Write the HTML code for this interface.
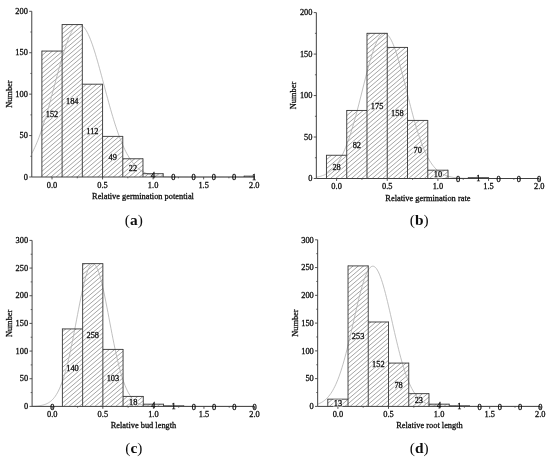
<!DOCTYPE html><html><head><meta charset="utf-8"><title>Figure</title>
<style>html,body{margin:0;padding:0;background:#fff}svg{display:block}text{font-family:"Liberation Serif","DejaVu Serif",serif;fill:#111}text{stroke:#111;stroke-width:0.3}</style></head><body>
<svg width="550" height="460" viewBox="0 0 550 460">
<defs><filter id="bl" x="-2%" y="-2%" width="104%" height="104%"><feGaussianBlur stdDeviation="0.4"/></filter>
<clipPath id="cp-a">
<rect x="41.89" y="51.07" width="20.22" height="125.93"/>
<rect x="62.11" y="24.56" width="20.22" height="152.44"/>
<rect x="82.33" y="84.21" width="20.22" height="92.79"/>
<rect x="102.55" y="136.40" width="20.22" height="40.60"/>
<rect x="122.77" y="158.77" width="20.22" height="18.23"/>
<rect x="142.99" y="173.69" width="20.22" height="3.31"/>
<rect x="244.09" y="176.17" width="10.11" height="0.83"/>
</clipPath>
<clipPath id="cp-b">
<rect x="326.47" y="155.27" width="20.26" height="23.23"/>
<rect x="346.73" y="110.48" width="20.26" height="68.02"/>
<rect x="366.99" y="33.34" width="20.26" height="145.16"/>
<rect x="387.25" y="47.44" width="20.26" height="131.06"/>
<rect x="407.51" y="120.44" width="20.26" height="58.06"/>
<rect x="427.77" y="170.21" width="20.26" height="8.29"/>
<rect x="468.29" y="177.67" width="20.26" height="0.83"/>
</clipPath>
<clipPath id="cp-c">
<rect x="62.41" y="328.93" width="20.22" height="77.47"/>
<rect x="82.63" y="263.64" width="20.22" height="142.76"/>
<rect x="102.85" y="349.41" width="20.22" height="56.99"/>
<rect x="123.07" y="396.44" width="20.22" height="9.96"/>
<rect x="143.29" y="404.19" width="20.22" height="2.21"/>
<rect x="163.51" y="405.85" width="20.22" height="0.55"/>
</clipPath>
<clipPath id="cp-d">
<rect x="327.78" y="399.18" width="20.24" height="7.22"/>
<rect x="348.02" y="265.90" width="20.24" height="140.50"/>
<rect x="368.26" y="321.99" width="20.24" height="84.41"/>
<rect x="388.50" y="363.08" width="20.24" height="43.32"/>
<rect x="408.74" y="393.63" width="20.24" height="12.77"/>
<rect x="428.98" y="404.18" width="20.24" height="2.22"/>
<rect x="449.22" y="405.84" width="20.24" height="0.56"/>
</clipPath>
</defs>
<rect width="550" height="460" fill="#fff"/>
<g filter="url(#bl)">
<g id="panel-a">
<path d="M31.78 10.84L254.20 -179.13M31.78 15.29L254.20 -174.68M31.78 19.74L254.20 -170.23M31.78 24.19L254.20 -165.78M31.78 28.64L254.20 -161.33M31.78 33.09L254.20 -156.88M31.78 37.54L254.20 -152.43M31.78 41.99L254.20 -147.98M31.78 46.44L254.20 -143.53M31.78 50.89L254.20 -139.08M31.78 55.34L254.20 -134.63M31.78 59.79L254.20 -130.18M31.78 64.24L254.20 -125.73M31.78 68.69L254.20 -121.28M31.78 73.14L254.20 -116.83M31.78 77.59L254.20 -112.38M31.78 82.04L254.20 -107.93M31.78 86.49L254.20 -103.48M31.78 90.94L254.20 -99.03M31.78 95.39L254.20 -94.58M31.78 99.84L254.20 -90.13M31.78 104.29L254.20 -85.68M31.78 108.74L254.20 -81.23M31.78 113.19L254.20 -76.78M31.78 117.64L254.20 -72.33M31.78 122.09L254.20 -67.88M31.78 126.54L254.20 -63.43M31.78 130.99L254.20 -58.98M31.78 135.44L254.20 -54.53M31.78 139.89L254.20 -50.08M31.78 144.34L254.20 -45.63M31.78 148.79L254.20 -41.18M31.78 153.24L254.20 -36.73M31.78 157.69L254.20 -32.28M31.78 162.14L254.20 -27.83M31.78 166.59L254.20 -23.38M31.78 171.04L254.20 -18.93M31.78 175.49L254.20 -14.48M31.78 179.94L254.20 -10.03M31.78 184.39L254.20 -5.58M31.78 188.84L254.20 -1.13M31.78 193.29L254.20 3.32M31.78 197.74L254.20 7.77M31.78 202.19L254.20 12.22M31.78 206.64L254.20 16.67M31.78 211.09L254.20 21.12M31.78 215.54L254.20 25.57M31.78 219.99L254.20 30.02M31.78 224.44L254.20 34.47M31.78 228.89L254.20 38.92M31.78 233.34L254.20 43.37M31.78 237.79L254.20 47.82M31.78 242.24L254.20 52.27M31.78 246.69L254.20 56.72M31.78 251.14L254.20 61.17M31.78 255.59L254.20 65.62M31.78 260.04L254.20 70.07M31.78 264.49L254.20 74.52M31.78 268.94L254.20 78.97M31.78 273.39L254.20 83.42M31.78 277.84L254.20 87.87M31.78 282.29L254.20 92.32M31.78 286.74L254.20 96.77M31.78 291.19L254.20 101.22M31.78 295.64L254.20 105.67M31.78 300.09L254.20 110.12M31.78 304.54L254.20 114.57M31.78 308.99L254.20 119.02M31.78 313.44L254.20 123.47M31.78 317.89L254.20 127.92M31.78 322.34L254.20 132.37M31.78 326.79L254.20 136.82M31.78 331.24L254.20 141.27M31.78 335.69L254.20 145.72M31.78 340.14L254.20 150.17M31.78 344.59L254.20 154.62M31.78 349.04L254.20 159.07M31.78 353.49L254.20 163.52M31.78 357.94L254.20 167.97M31.78 362.39L254.20 172.42M31.78 366.84L254.20 176.87M31.78 371.29L254.20 181.32" clip-path="url(#cp-a)" stroke="#9a9a9a" stroke-width="0.9" fill="none"/>
<polyline points="31.78,153.52 32.79,151.59 33.80,149.56 34.81,147.41 35.82,145.15 36.84,142.77 37.85,140.28 38.86,137.67 39.87,134.95 40.88,132.12 41.89,129.17 42.90,126.12 43.91,122.97 44.92,119.72 45.93,116.38 46.95,112.95 47.96,109.44 48.97,105.86 49.98,102.21 50.99,98.51 52.00,94.77 53.01,91.00 54.02,87.20 55.03,83.40 56.04,79.60 57.06,75.81 58.07,72.06 59.08,68.35 60.09,64.71 61.10,61.13 62.11,57.65 63.12,54.26 64.13,51.00 65.14,47.87 66.15,44.88 67.16,42.06 68.18,39.40 69.19,36.93 70.20,34.66 71.21,32.60 72.22,30.75 73.23,29.13 74.24,27.75 75.25,26.61 76.26,25.71 77.28,25.07 78.29,24.69 79.30,24.56 80.31,24.69 81.32,25.07 82.33,25.71 83.34,26.61 84.35,27.75 85.36,29.13 86.37,30.75 87.38,32.60 88.40,34.66 89.41,36.93 90.42,39.40 91.43,42.06 92.44,44.88 93.45,47.87 94.46,51.00 95.47,54.26 96.48,57.65 97.50,61.13 98.51,64.71 99.52,68.35 100.53,72.06 101.54,75.81 102.55,79.60 103.56,83.40 104.57,87.20 105.58,91.00 106.59,94.77 107.61,98.51 108.62,102.21 109.63,105.86 110.64,109.44 111.65,112.95 112.66,116.38 113.67,119.72 114.68,122.97 115.69,126.12 116.70,129.17 117.72,132.12 118.73,134.95 119.74,137.67 120.75,140.28 121.76,142.77 122.77,145.15 123.78,147.41 124.79,149.56 125.80,151.59 126.81,153.52 127.83,155.33 128.84,157.04 129.85,158.64 130.86,160.15 131.87,161.56 132.88,162.87 133.89,164.09 134.90,165.23 135.91,166.29 136.92,167.27 137.94,168.17 138.95,169.00 139.96,169.77 140.97,170.47 141.98,171.12 142.99,171.71 144.00,172.25 145.01,172.74 146.02,173.19 147.03,173.59 148.05,173.96 149.06,174.29 150.07,174.59 151.08,174.87 152.09,175.11 153.10,175.33 154.11,175.52 155.12,175.70 156.13,175.85 157.14,175.99 158.16,176.12 159.17,176.23 160.18,176.32 161.19,176.41 162.20,176.49 163.21,176.55 164.22,176.61 165.23,176.66 166.24,176.71 167.25,176.75 168.26,176.78 169.28,176.81 170.29,176.84 171.30,176.86 172.31,176.88 173.32,176.90 174.33,176.91 175.34,176.93 176.35,176.94 177.36,176.95 178.38,176.96 179.39,176.96 180.40,176.97 181.41,176.97 182.42,176.98 183.43,176.98 184.44,176.98 185.45,176.99 186.46,176.99 187.47,176.99 188.49,176.99 189.50,176.99 190.51,176.99 191.52,177.00 192.53,177.00 193.54,177.00 194.55,177.00 195.56,177.00 196.57,177.00 197.58,177.00 198.60,177.00 199.61,177.00 200.62,177.00 201.63,177.00 202.64,177.00 203.65,177.00 204.66,177.00 205.67,177.00 206.68,177.00 207.69,177.00 208.71,177.00 209.72,177.00 210.73,177.00 211.74,177.00 212.75,177.00 213.76,177.00 214.77,177.00 215.78,177.00 216.79,177.00 217.80,177.00 218.82,177.00 219.83,177.00 220.84,177.00 221.85,177.00 222.86,177.00 223.87,177.00 224.88,177.00 225.89,177.00 226.90,177.00 227.91,177.00 228.93,177.00 229.94,177.00 230.95,177.00 231.96,177.00 232.97,177.00 233.98,177.00 234.99,177.00 236.00,177.00 237.01,177.00 238.02,177.00 239.04,177.00 240.05,177.00 241.06,177.00 242.07,177.00 243.08,177.00 244.09,177.00 245.10,177.00 246.11,177.00 247.12,177.00 248.13,177.00 249.15,177.00 250.16,177.00 251.17,177.00 252.18,177.00 253.19,177.00 254.20,177.00" fill="none" stroke="#b0b0b0" stroke-width="0.8"/>
<path d="M41.89 51.07H62.11M62.11 24.56H82.33M82.33 84.21H102.55M102.55 136.40H122.77M122.77 158.77H142.99M142.99 173.69H163.21M244.09 176.17H254.20M41.89 50.67V177.00M62.11 24.16V177.00M82.33 24.16V177.00M102.55 83.81V177.00M122.77 136.00V177.00M142.99 158.37V177.00M163.21 173.29V177.00M244.09 175.77V177.00M254.20 175.77V177.00" fill="none" stroke="#333" stroke-width="0.9"/>
<path d="M31.78 11.30V177.00H254.20" fill="none" stroke="#404040" stroke-width="1"/>
<path d="M29.18 177.00H31.78" stroke="#404040" stroke-width="0.9"/>
<text x="27.88" y="179.70" font-size="8.4" text-anchor="end">0</text>
<path d="M30.38 156.29H31.78" stroke="#404040" stroke-width="0.8"/>
<path d="M29.18 135.57H31.78" stroke="#404040" stroke-width="0.9"/>
<text x="27.88" y="138.27" font-size="8.4" text-anchor="end">50</text>
<path d="M30.38 114.86H31.78" stroke="#404040" stroke-width="0.8"/>
<path d="M29.18 94.15H31.78" stroke="#404040" stroke-width="0.9"/>
<text x="27.88" y="96.85" font-size="8.4" text-anchor="end">100</text>
<path d="M30.38 73.44H31.78" stroke="#404040" stroke-width="0.8"/>
<path d="M29.18 52.73H31.78" stroke="#404040" stroke-width="0.9"/>
<text x="27.88" y="55.43" font-size="8.4" text-anchor="end">150</text>
<path d="M30.38 32.01H31.78" stroke="#404040" stroke-width="0.8"/>
<path d="M29.18 11.30H31.78" stroke="#404040" stroke-width="0.9"/>
<text x="27.88" y="14.00" font-size="8.4" text-anchor="end">200</text>
<path d="M52.00 177.00V179.40" stroke="#404040" stroke-width="0.9"/>
<text x="52.00" y="187.50" font-size="8.4" text-anchor="middle">0.0</text>
<path d="M77.28 177.00V178.30" stroke="#404040" stroke-width="0.8"/>
<path d="M102.55 177.00V179.40" stroke="#404040" stroke-width="0.9"/>
<text x="102.55" y="187.50" font-size="8.4" text-anchor="middle">0.5</text>
<path d="M127.82 177.00V178.30" stroke="#404040" stroke-width="0.8"/>
<path d="M153.10 177.00V179.40" stroke="#404040" stroke-width="0.9"/>
<text x="153.10" y="187.50" font-size="8.4" text-anchor="middle">1.0</text>
<path d="M178.38 177.00V178.30" stroke="#404040" stroke-width="0.8"/>
<path d="M203.65 177.00V179.40" stroke="#404040" stroke-width="0.9"/>
<text x="203.65" y="187.50" font-size="8.4" text-anchor="middle">1.5</text>
<path d="M228.92 177.00V178.30" stroke="#404040" stroke-width="0.8"/>
<path d="M254.20 177.00V179.40" stroke="#404040" stroke-width="0.9"/>
<text x="254.20" y="187.50" font-size="8.4" text-anchor="middle">2.0</text>
<rect x="44.90" y="110.53" width="14.20" height="7.6" rx="1.5" fill="#fff" fill-opacity="0.5"/>
<text x="52.00" y="117.13" font-size="8.4" text-anchor="middle">152</text>
<rect x="65.12" y="97.28" width="14.20" height="7.6" rx="1.5" fill="#fff" fill-opacity="0.5"/>
<text x="72.22" y="103.88" font-size="8.4" text-anchor="middle">184</text>
<rect x="85.34" y="127.10" width="14.20" height="7.6" rx="1.5" fill="#fff" fill-opacity="0.5"/>
<text x="92.44" y="133.70" font-size="8.4" text-anchor="middle">112</text>
<rect x="107.66" y="153.20" width="10.00" height="7.6" rx="1.5" fill="#fff" fill-opacity="0.5"/>
<text x="112.66" y="159.80" font-size="8.4" text-anchor="middle">49</text>
<rect x="127.88" y="164.39" width="10.00" height="7.6" rx="1.5" fill="#fff" fill-opacity="0.5"/>
<text x="132.88" y="170.99" font-size="8.4" text-anchor="middle">22</text>
<text x="153.10" y="178.44" font-size="8.4" text-anchor="middle">4</text>
<text x="173.32" y="180.10" font-size="8.4" text-anchor="middle">0</text>
<text x="193.54" y="180.10" font-size="8.4" text-anchor="middle">0</text>
<text x="213.76" y="180.10" font-size="8.4" text-anchor="middle">0</text>
<text x="233.98" y="180.10" font-size="8.4" text-anchor="middle">0</text>
<text x="254.20" y="179.69" font-size="8.4" text-anchor="middle">1</text>
<text x="143" y="198.7" font-size="8.4" text-anchor="middle">Relative germination potential</text>
<text transform="translate(11.88 94.15) rotate(-90)" font-size="8.4" text-anchor="middle">Number</text>
</g>
<g id="panel-b">
<path d="M316.34 12.55L539.20 -177.79M316.34 17.00L539.20 -173.34M316.34 21.45L539.20 -168.89M316.34 25.90L539.20 -164.44M316.34 30.35L539.20 -159.99M316.34 34.80L539.20 -155.54M316.34 39.25L539.20 -151.09M316.34 43.70L539.20 -146.64M316.34 48.15L539.20 -142.19M316.34 52.60L539.20 -137.74M316.34 57.05L539.20 -133.29M316.34 61.50L539.20 -128.84M316.34 65.95L539.20 -124.39M316.34 70.40L539.20 -119.94M316.34 74.85L539.20 -115.49M316.34 79.30L539.20 -111.04M316.34 83.75L539.20 -106.59M316.34 88.20L539.20 -102.14M316.34 92.65L539.20 -97.69M316.34 97.10L539.20 -93.24M316.34 101.55L539.20 -88.79M316.34 106.00L539.20 -84.34M316.34 110.45L539.20 -79.89M316.34 114.90L539.20 -75.44M316.34 119.35L539.20 -70.99M316.34 123.80L539.20 -66.54M316.34 128.25L539.20 -62.09M316.34 132.70L539.20 -57.64M316.34 137.15L539.20 -53.19M316.34 141.60L539.20 -48.74M316.34 146.05L539.20 -44.29M316.34 150.50L539.20 -39.84M316.34 154.95L539.20 -35.39M316.34 159.40L539.20 -30.94M316.34 163.85L539.20 -26.49M316.34 168.30L539.20 -22.04M316.34 172.75L539.20 -17.59M316.34 177.20L539.20 -13.14M316.34 181.65L539.20 -8.69M316.34 186.10L539.20 -4.24M316.34 190.55L539.20 0.21M316.34 195.00L539.20 4.66M316.34 199.45L539.20 9.11M316.34 203.90L539.20 13.56M316.34 208.35L539.20 18.01M316.34 212.80L539.20 22.46M316.34 217.25L539.20 26.91M316.34 221.70L539.20 31.36M316.34 226.15L539.20 35.81M316.34 230.60L539.20 40.26M316.34 235.05L539.20 44.71M316.34 239.50L539.20 49.16M316.34 243.95L539.20 53.61M316.34 248.40L539.20 58.06M316.34 252.85L539.20 62.51M316.34 257.30L539.20 66.96M316.34 261.75L539.20 71.41M316.34 266.20L539.20 75.86M316.34 270.65L539.20 80.31M316.34 275.10L539.20 84.76M316.34 279.55L539.20 89.21M316.34 284.00L539.20 93.66M316.34 288.45L539.20 98.11M316.34 292.90L539.20 102.56M316.34 297.35L539.20 107.01M316.34 301.80L539.20 111.46M316.34 306.25L539.20 115.91M316.34 310.70L539.20 120.36M316.34 315.15L539.20 124.81M316.34 319.60L539.20 129.26M316.34 324.05L539.20 133.71M316.34 328.50L539.20 138.16M316.34 332.95L539.20 142.61M316.34 337.40L539.20 147.06M316.34 341.85L539.20 151.51M316.34 346.30L539.20 155.96M316.34 350.75L539.20 160.41M316.34 355.20L539.20 164.86M316.34 359.65L539.20 169.31M316.34 364.10L539.20 173.76M316.34 368.55L539.20 178.21M316.34 373.00L539.20 182.66" clip-path="url(#cp-b)" stroke="#9a9a9a" stroke-width="0.9" fill="none"/>
<polyline points="316.34,177.25 317.35,177.06 318.37,176.84 319.38,176.60 320.39,176.33 321.41,176.02 322.42,175.68 323.43,175.29 324.44,174.86 325.46,174.39 326.47,173.86 327.48,173.27 328.50,172.62 329.51,171.90 330.52,171.11 331.54,170.24 332.55,169.29 333.56,168.26 334.57,167.13 335.59,165.90 336.60,164.57 337.61,163.13 338.63,161.58 339.64,159.91 340.65,158.12 341.67,156.21 342.68,154.16 343.69,151.99 344.70,149.68 345.72,147.23 346.73,144.65 347.74,141.93 348.76,139.08 349.77,136.09 350.78,132.98 351.80,129.74 352.81,126.37 353.82,122.89 354.83,119.31 355.85,115.62 356.86,111.85 357.87,108.00 358.89,104.08 359.90,100.11 360.91,96.10 361.93,92.07 362.94,88.03 363.95,84.00 364.96,80.00 365.98,76.05 366.99,72.16 368.00,68.36 369.02,64.66 370.03,61.09 371.04,57.65 372.06,54.38 373.07,51.29 374.08,48.39 375.09,45.71 376.11,43.25 377.12,41.04 378.13,39.09 379.15,37.41 380.16,36.01 381.17,34.89 382.19,34.07 383.20,33.56 384.21,33.34 385.22,33.44 386.24,33.83 387.25,34.53 388.26,35.53 389.28,36.81 390.29,38.39 391.30,40.23 392.32,42.34 393.33,44.70 394.34,47.29 395.35,50.10 396.37,53.12 397.38,56.32 398.39,59.69 399.41,63.22 400.42,66.87 401.43,70.63 402.45,74.49 403.46,78.42 404.47,82.40 405.48,86.42 406.50,90.45 407.51,94.49 408.52,98.51 409.54,102.50 410.55,106.44 411.56,110.32 412.58,114.12 413.59,117.85 414.60,121.47 415.61,124.99 416.63,128.40 417.64,131.70 418.65,134.86 419.67,137.90 420.68,140.81 421.69,143.58 422.71,146.22 423.72,148.72 424.73,151.08 425.74,153.31 426.76,155.41 427.77,157.37 428.78,159.21 429.80,160.93 430.81,162.53 431.82,164.01 432.84,165.38 433.85,166.65 434.86,167.82 435.87,168.89 436.89,169.87 437.90,170.77 438.91,171.59 439.93,172.34 440.94,173.02 441.95,173.63 442.97,174.18 443.98,174.68 444.99,175.13 446.00,175.53 447.02,175.89 448.03,176.21 449.04,176.50 450.06,176.75 451.07,176.97 452.08,177.17 453.10,177.35 454.11,177.50 455.12,177.64 456.13,177.76 457.15,177.86 458.16,177.95 459.17,178.03 460.19,178.10 461.20,178.16 462.21,178.21 463.23,178.25 464.24,178.29 465.25,178.32 466.26,178.35 467.28,178.37 468.29,178.39 469.30,178.41 470.32,178.42 471.33,178.44 472.34,178.45 473.36,178.46 474.37,178.46 475.38,178.47 476.39,178.48 477.41,178.48 478.42,178.48 479.43,178.49 480.45,178.49 481.46,178.49 482.47,178.49 483.49,178.49 484.50,178.49 485.51,178.50 486.52,178.50 487.54,178.50 488.55,178.50 489.56,178.50 490.58,178.50 491.59,178.50 492.60,178.50 493.62,178.50 494.63,178.50 495.64,178.50 496.65,178.50 497.67,178.50 498.68,178.50 499.69,178.50 500.71,178.50 501.72,178.50 502.73,178.50 503.75,178.50 504.76,178.50 505.77,178.50 506.78,178.50 507.80,178.50 508.81,178.50 509.82,178.50 510.84,178.50 511.85,178.50 512.86,178.50 513.88,178.50 514.89,178.50 515.90,178.50 516.91,178.50 517.93,178.50 518.94,178.50 519.95,178.50 520.97,178.50 521.98,178.50 522.99,178.50 524.01,178.50 525.02,178.50 526.03,178.50 527.04,178.50 528.06,178.50 529.07,178.50 530.08,178.50 531.10,178.50 532.11,178.50 533.12,178.50 534.13,178.50 535.15,178.50 536.16,178.50 537.17,178.50 538.19,178.50 539.20,178.50" fill="none" stroke="#b0b0b0" stroke-width="0.8"/>
<path d="M326.47 155.27H346.73M346.73 110.48H366.99M366.99 33.34H387.25M387.25 47.44H407.51M407.51 120.44H427.77M427.77 170.21H448.03M468.29 177.67H488.55M326.47 154.87V178.50M346.73 110.08V178.50M366.99 32.94V178.50M387.25 32.94V178.50M407.51 47.04V178.50M427.77 120.03V178.50M448.03 169.81V178.50M468.29 177.27V178.50M488.55 177.27V178.50" fill="none" stroke="#333" stroke-width="0.9"/>
<path d="M316.34 12.60V178.50H539.20" fill="none" stroke="#404040" stroke-width="1"/>
<path d="M313.74 178.50H316.34" stroke="#404040" stroke-width="0.9"/>
<text x="312.44" y="181.20" font-size="8.4" text-anchor="end">0</text>
<path d="M314.94 157.76H316.34" stroke="#404040" stroke-width="0.8"/>
<path d="M313.74 137.03H316.34" stroke="#404040" stroke-width="0.9"/>
<text x="312.44" y="139.72" font-size="8.4" text-anchor="end">50</text>
<path d="M314.94 116.29H316.34" stroke="#404040" stroke-width="0.8"/>
<path d="M313.74 95.55H316.34" stroke="#404040" stroke-width="0.9"/>
<text x="312.44" y="98.25" font-size="8.4" text-anchor="end">100</text>
<path d="M314.94 74.81H316.34" stroke="#404040" stroke-width="0.8"/>
<path d="M313.74 54.08H316.34" stroke="#404040" stroke-width="0.9"/>
<text x="312.44" y="56.78" font-size="8.4" text-anchor="end">150</text>
<path d="M314.94 33.34H316.34" stroke="#404040" stroke-width="0.8"/>
<path d="M313.74 12.60H316.34" stroke="#404040" stroke-width="0.9"/>
<text x="312.44" y="15.30" font-size="8.4" text-anchor="end">200</text>
<path d="M336.60 178.50V180.90" stroke="#404040" stroke-width="0.9"/>
<text x="336.60" y="189.00" font-size="8.4" text-anchor="middle">0.0</text>
<path d="M361.93 178.50V179.80" stroke="#404040" stroke-width="0.8"/>
<path d="M387.25 178.50V180.90" stroke="#404040" stroke-width="0.9"/>
<text x="387.25" y="189.00" font-size="8.4" text-anchor="middle">0.5</text>
<path d="M412.58 178.50V179.80" stroke="#404040" stroke-width="0.8"/>
<path d="M437.90 178.50V180.90" stroke="#404040" stroke-width="0.9"/>
<text x="437.90" y="189.00" font-size="8.4" text-anchor="middle">1.0</text>
<path d="M463.23 178.50V179.80" stroke="#404040" stroke-width="0.8"/>
<path d="M488.55 178.50V180.90" stroke="#404040" stroke-width="0.9"/>
<text x="488.55" y="189.00" font-size="8.4" text-anchor="middle">1.5</text>
<path d="M513.88 178.50V179.80" stroke="#404040" stroke-width="0.8"/>
<path d="M539.20 178.50V180.90" stroke="#404040" stroke-width="0.9"/>
<text x="539.20" y="189.00" font-size="8.4" text-anchor="middle">2.0</text>
<rect x="331.60" y="163.39" width="10.00" height="7.6" rx="1.5" fill="#fff" fill-opacity="0.5"/>
<text x="336.60" y="169.99" font-size="8.4" text-anchor="middle">28</text>
<rect x="351.86" y="140.99" width="10.00" height="7.6" rx="1.5" fill="#fff" fill-opacity="0.5"/>
<text x="356.86" y="147.59" font-size="8.4" text-anchor="middle">82</text>
<rect x="370.02" y="102.42" width="14.20" height="7.6" rx="1.5" fill="#fff" fill-opacity="0.5"/>
<text x="377.12" y="109.02" font-size="8.4" text-anchor="middle">175</text>
<rect x="390.28" y="109.47" width="14.20" height="7.6" rx="1.5" fill="#fff" fill-opacity="0.5"/>
<text x="397.38" y="116.07" font-size="8.4" text-anchor="middle">158</text>
<rect x="412.64" y="145.97" width="10.00" height="7.6" rx="1.5" fill="#fff" fill-opacity="0.5"/>
<text x="417.64" y="152.57" font-size="8.4" text-anchor="middle">70</text>
<rect x="432.90" y="170.85" width="10.00" height="7.6" rx="1.5" fill="#fff" fill-opacity="0.5"/>
<text x="437.90" y="177.45" font-size="8.4" text-anchor="middle">10</text>
<text x="458.16" y="181.60" font-size="8.4" text-anchor="middle">0</text>
<text x="478.42" y="181.19" font-size="8.4" text-anchor="middle">1</text>
<text x="498.68" y="181.60" font-size="8.4" text-anchor="middle">0</text>
<text x="518.94" y="181.60" font-size="8.4" text-anchor="middle">0</text>
<text x="539.20" y="181.60" font-size="8.4" text-anchor="middle">0</text>
<text x="427.9" y="200.7" font-size="8.4" text-anchor="middle">Relative germination rate</text>
<text transform="translate(296.44 95.55) rotate(-90)" font-size="8.4" text-anchor="middle">Number</text>
</g>
<g id="panel-c">
<path d="M32.08 237.53L254.50 47.57M32.08 241.98L254.50 52.02M32.08 246.43L254.50 56.47M32.08 250.88L254.50 60.92M32.08 255.33L254.50 65.37M32.08 259.78L254.50 69.82M32.08 264.23L254.50 74.27M32.08 268.68L254.50 78.72M32.08 273.13L254.50 83.17M32.08 277.58L254.50 87.62M32.08 282.03L254.50 92.07M32.08 286.48L254.50 96.52M32.08 290.93L254.50 100.97M32.08 295.38L254.50 105.42M32.08 299.83L254.50 109.87M32.08 304.28L254.50 114.32M32.08 308.73L254.50 118.77M32.08 313.18L254.50 123.22M32.08 317.63L254.50 127.67M32.08 322.08L254.50 132.12M32.08 326.53L254.50 136.57M32.08 330.98L254.50 141.02M32.08 335.43L254.50 145.47M32.08 339.88L254.50 149.92M32.08 344.33L254.50 154.37M32.08 348.78L254.50 158.82M32.08 353.23L254.50 163.27M32.08 357.68L254.50 167.72M32.08 362.13L254.50 172.17M32.08 366.58L254.50 176.62M32.08 371.03L254.50 181.07M32.08 375.48L254.50 185.52M32.08 379.93L254.50 189.97M32.08 384.38L254.50 194.42M32.08 388.83L254.50 198.87M32.08 393.28L254.50 203.32M32.08 397.73L254.50 207.77M32.08 402.18L254.50 212.22M32.08 406.63L254.50 216.67M32.08 411.08L254.50 221.12M32.08 415.53L254.50 225.57M32.08 419.98L254.50 230.02M32.08 424.43L254.50 234.47M32.08 428.88L254.50 238.92M32.08 433.33L254.50 243.37M32.08 437.78L254.50 247.82M32.08 442.23L254.50 252.27M32.08 446.68L254.50 256.72M32.08 451.13L254.50 261.17M32.08 455.58L254.50 265.62M32.08 460.03L254.50 270.07M32.08 464.48L254.50 274.52M32.08 468.93L254.50 278.97M32.08 473.38L254.50 283.42M32.08 477.83L254.50 287.87M32.08 482.28L254.50 292.32M32.08 486.73L254.50 296.77M32.08 491.18L254.50 301.22M32.08 495.63L254.50 305.67M32.08 500.08L254.50 310.12M32.08 504.53L254.50 314.57M32.08 508.98L254.50 319.02M32.08 513.43L254.50 323.47M32.08 517.88L254.50 327.92M32.08 522.33L254.50 332.37M32.08 526.78L254.50 336.82M32.08 531.23L254.50 341.27M32.08 535.68L254.50 345.72M32.08 540.13L254.50 350.17M32.08 544.58L254.50 354.62M32.08 549.03L254.50 359.07M32.08 553.48L254.50 363.52M32.08 557.93L254.50 367.97M32.08 562.38L254.50 372.42M32.08 566.83L254.50 376.87M32.08 571.28L254.50 381.32M32.08 575.73L254.50 385.77M32.08 580.18L254.50 390.22M32.08 584.63L254.50 394.67M32.08 589.08L254.50 399.12M32.08 593.53L254.50 403.57M32.08 597.98L254.50 408.02" clip-path="url(#cp-c)" stroke="#9a9a9a" stroke-width="0.9" fill="none"/>
<polyline points="32.08,406.26 33.09,406.22 34.10,406.18 35.11,406.12 36.12,406.05 37.13,405.97 38.15,405.87 39.16,405.75 40.17,405.61 41.18,405.43 42.19,405.23 43.20,404.98 44.21,404.69 45.22,404.35 46.23,403.95 47.24,403.49 48.26,402.95 49.27,402.32 50.28,401.60 51.29,400.78 52.30,399.83 53.31,398.76 54.32,397.54 55.33,396.18 56.34,394.64 57.36,392.93 58.37,391.02 59.38,388.92 60.39,386.60 61.40,384.06 62.41,381.28 63.42,378.27 64.43,375.02 65.44,371.53 66.45,367.80 67.46,363.82 68.48,359.62 69.49,355.20 70.50,350.58 71.51,345.76 72.52,340.79 73.53,335.67 74.54,330.45 75.55,325.15 76.56,319.81 77.58,314.47 78.59,309.18 79.60,303.97 80.61,298.89 81.62,293.99 82.63,289.31 83.64,284.90 84.65,280.81 85.66,277.07 86.67,273.72 87.69,270.81 88.70,268.36 89.71,266.40 90.72,264.95 91.73,264.03 92.74,263.65 93.75,263.81 94.76,264.52 95.77,265.76 96.78,267.51 97.79,269.77 98.81,272.50 99.82,275.68 100.83,279.26 101.84,283.22 102.85,287.51 103.86,292.09 104.87,296.90 105.88,301.92 106.89,307.08 107.91,312.35 108.92,317.67 109.93,323.02 110.94,328.34 111.95,333.59 112.96,338.76 113.97,343.79 114.98,348.67 115.99,353.37 117.00,357.88 118.02,362.17 119.03,366.24 120.04,370.07 121.05,373.65 122.06,377.00 123.07,380.11 124.08,382.97 125.09,385.61 126.10,388.02 127.11,390.21 128.12,392.19 129.14,393.98 130.15,395.58 131.16,397.02 132.17,398.29 133.18,399.42 134.19,400.41 135.20,401.28 136.21,402.05 137.22,402.71 138.24,403.28 139.25,403.78 140.26,404.20 141.27,404.56 142.28,404.87 143.29,405.13 144.30,405.35 145.31,405.54 146.32,405.70 147.33,405.82 148.35,405.93 149.36,406.02 150.37,406.09 151.38,406.15 152.39,406.20 153.40,406.24 154.41,406.28 155.42,406.30 156.43,406.32 157.44,406.34 158.45,406.35 159.47,406.36 160.48,406.37 161.49,406.38 162.50,406.38 163.51,406.39 164.52,406.39 165.53,406.39 166.54,406.39 167.55,406.40 168.56,406.40 169.58,406.40 170.59,406.40 171.60,406.40 172.61,406.40 173.62,406.40 174.63,406.40 175.64,406.40 176.65,406.40 177.66,406.40 178.68,406.40 179.69,406.40 180.70,406.40 181.71,406.40 182.72,406.40 183.73,406.40 184.74,406.40 185.75,406.40 186.76,406.40 187.77,406.40 188.79,406.40 189.80,406.40 190.81,406.40 191.82,406.40 192.83,406.40 193.84,406.40 194.85,406.40 195.86,406.40 196.87,406.40 197.88,406.40 198.90,406.40 199.91,406.40 200.92,406.40 201.93,406.40 202.94,406.40 203.95,406.40 204.96,406.40 205.97,406.40 206.98,406.40 207.99,406.40 209.00,406.40 210.02,406.40 211.03,406.40 212.04,406.40 213.05,406.40 214.06,406.40 215.07,406.40 216.08,406.40 217.09,406.40 218.10,406.40 219.12,406.40 220.13,406.40 221.14,406.40 222.15,406.40 223.16,406.40 224.17,406.40 225.18,406.40 226.19,406.40 227.20,406.40 228.21,406.40 229.23,406.40 230.24,406.40 231.25,406.40 232.26,406.40 233.27,406.40 234.28,406.40 235.29,406.40 236.30,406.40 237.31,406.40 238.32,406.40 239.34,406.40 240.35,406.40 241.36,406.40 242.37,406.40 243.38,406.40 244.39,406.40 245.40,406.40 246.41,406.40 247.42,406.40 248.43,406.40 249.45,406.40 250.46,406.40 251.47,406.40 252.48,406.40 253.49,406.40 254.50,406.40" fill="none" stroke="#b0b0b0" stroke-width="0.8"/>
<path d="M62.41 328.93H82.63M82.63 263.64H102.85M102.85 349.41H123.07M123.07 396.44H143.29M143.29 404.19H163.51M163.51 405.85H183.73M62.41 328.53V406.40M82.63 263.24V406.40M102.85 263.24V406.40M123.07 349.01V406.40M143.29 396.04V406.40M163.51 403.79V406.40M183.73 405.45V406.40" fill="none" stroke="#333" stroke-width="0.9"/>
<path d="M32.08 240.40V406.40H254.50" fill="none" stroke="#404040" stroke-width="1"/>
<path d="M29.48 406.40H32.08" stroke="#404040" stroke-width="0.9"/>
<text x="28.18" y="409.10" font-size="8.4" text-anchor="end">0</text>
<path d="M30.68 392.57H32.08" stroke="#404040" stroke-width="0.8"/>
<path d="M29.48 378.73H32.08" stroke="#404040" stroke-width="0.9"/>
<text x="28.18" y="381.43" font-size="8.4" text-anchor="end">50</text>
<path d="M30.68 364.90H32.08" stroke="#404040" stroke-width="0.8"/>
<path d="M29.48 351.07H32.08" stroke="#404040" stroke-width="0.9"/>
<text x="28.18" y="353.77" font-size="8.4" text-anchor="end">100</text>
<path d="M30.68 337.23H32.08" stroke="#404040" stroke-width="0.8"/>
<path d="M29.48 323.40H32.08" stroke="#404040" stroke-width="0.9"/>
<text x="28.18" y="326.10" font-size="8.4" text-anchor="end">150</text>
<path d="M30.68 309.57H32.08" stroke="#404040" stroke-width="0.8"/>
<path d="M29.48 295.73H32.08" stroke="#404040" stroke-width="0.9"/>
<text x="28.18" y="298.43" font-size="8.4" text-anchor="end">200</text>
<path d="M30.68 281.90H32.08" stroke="#404040" stroke-width="0.8"/>
<path d="M29.48 268.07H32.08" stroke="#404040" stroke-width="0.9"/>
<text x="28.18" y="270.77" font-size="8.4" text-anchor="end">250</text>
<path d="M30.68 254.23H32.08" stroke="#404040" stroke-width="0.8"/>
<path d="M29.48 240.40H32.08" stroke="#404040" stroke-width="0.9"/>
<text x="28.18" y="243.10" font-size="8.4" text-anchor="end">300</text>
<path d="M52.30 406.40V408.80" stroke="#404040" stroke-width="0.9"/>
<text x="52.30" y="416.90" font-size="8.4" text-anchor="middle">0.0</text>
<path d="M77.57 406.40V407.70" stroke="#404040" stroke-width="0.8"/>
<path d="M102.85 406.40V408.80" stroke="#404040" stroke-width="0.9"/>
<text x="102.85" y="416.90" font-size="8.4" text-anchor="middle">0.5</text>
<path d="M128.12 406.40V407.70" stroke="#404040" stroke-width="0.8"/>
<path d="M153.40 406.40V408.80" stroke="#404040" stroke-width="0.9"/>
<text x="153.40" y="416.90" font-size="8.4" text-anchor="middle">1.0</text>
<path d="M178.68 406.40V407.70" stroke="#404040" stroke-width="0.8"/>
<path d="M203.95 406.40V408.80" stroke="#404040" stroke-width="0.9"/>
<text x="203.95" y="416.90" font-size="8.4" text-anchor="middle">1.5</text>
<path d="M229.22 406.40V407.70" stroke="#404040" stroke-width="0.8"/>
<path d="M254.50 406.40V408.80" stroke="#404040" stroke-width="0.9"/>
<text x="254.50" y="416.90" font-size="8.4" text-anchor="middle">2.0</text>
<text x="52.30" y="409.50" font-size="8.4" text-anchor="middle">0</text>
<rect x="65.42" y="364.17" width="14.20" height="7.6" rx="1.5" fill="#fff" fill-opacity="0.5"/>
<text x="72.52" y="370.77" font-size="8.4" text-anchor="middle">140</text>
<rect x="85.64" y="331.52" width="14.20" height="7.6" rx="1.5" fill="#fff" fill-opacity="0.5"/>
<text x="92.74" y="338.12" font-size="8.4" text-anchor="middle">258</text>
<rect x="105.86" y="374.40" width="14.20" height="7.6" rx="1.5" fill="#fff" fill-opacity="0.5"/>
<text x="112.96" y="381.00" font-size="8.4" text-anchor="middle">103</text>
<rect x="128.18" y="397.92" width="10.00" height="7.6" rx="1.5" fill="#fff" fill-opacity="0.5"/>
<text x="133.18" y="404.52" font-size="8.4" text-anchor="middle">18</text>
<text x="153.40" y="408.39" font-size="8.4" text-anchor="middle">4</text>
<text x="173.62" y="409.22" font-size="8.4" text-anchor="middle">1</text>
<text x="193.84" y="409.50" font-size="8.4" text-anchor="middle">0</text>
<text x="214.06" y="409.50" font-size="8.4" text-anchor="middle">0</text>
<text x="234.28" y="409.50" font-size="8.4" text-anchor="middle">0</text>
<text x="254.50" y="409.50" font-size="8.4" text-anchor="middle">0</text>
<text x="143.5" y="427.7" font-size="8.4" text-anchor="middle">Relative bud length</text>
<text transform="translate(12.18 323.40) rotate(-90)" font-size="8.4" text-anchor="middle">Number</text>
</g>
<g id="panel-d">
<path d="M317.66 238.37L540.30 48.22M317.66 242.82L540.30 52.67M317.66 247.27L540.30 57.12M317.66 251.72L540.30 61.57M317.66 256.17L540.30 66.02M317.66 260.62L540.30 70.47M317.66 265.07L540.30 74.92M317.66 269.52L540.30 79.37M317.66 273.97L540.30 83.82M317.66 278.42L540.30 88.27M317.66 282.87L540.30 92.72M317.66 287.32L540.30 97.17M317.66 291.77L540.30 101.62M317.66 296.22L540.30 106.07M317.66 300.67L540.30 110.52M317.66 305.12L540.30 114.97M317.66 309.57L540.30 119.42M317.66 314.02L540.30 123.87M317.66 318.47L540.30 128.32M317.66 322.92L540.30 132.77M317.66 327.37L540.30 137.22M317.66 331.82L540.30 141.67M317.66 336.27L540.30 146.12M317.66 340.72L540.30 150.57M317.66 345.17L540.30 155.02M317.66 349.62L540.30 159.47M317.66 354.07L540.30 163.92M317.66 358.52L540.30 168.37M317.66 362.97L540.30 172.82M317.66 367.42L540.30 177.27M317.66 371.87L540.30 181.72M317.66 376.32L540.30 186.17M317.66 380.77L540.30 190.62M317.66 385.22L540.30 195.07M317.66 389.67L540.30 199.52M317.66 394.12L540.30 203.97M317.66 398.57L540.30 208.42M317.66 403.02L540.30 212.87M317.66 407.47L540.30 217.32M317.66 411.92L540.30 221.77M317.66 416.37L540.30 226.22M317.66 420.82L540.30 230.67M317.66 425.27L540.30 235.12M317.66 429.72L540.30 239.57M317.66 434.17L540.30 244.02M317.66 438.62L540.30 248.47M317.66 443.07L540.30 252.92M317.66 447.52L540.30 257.37M317.66 451.97L540.30 261.82M317.66 456.42L540.30 266.27M317.66 460.87L540.30 270.72M317.66 465.32L540.30 275.17M317.66 469.77L540.30 279.62M317.66 474.22L540.30 284.07M317.66 478.67L540.30 288.52M317.66 483.12L540.30 292.97M317.66 487.57L540.30 297.42M317.66 492.02L540.30 301.87M317.66 496.47L540.30 306.32M317.66 500.92L540.30 310.77M317.66 505.37L540.30 315.22M317.66 509.82L540.30 319.67M317.66 514.27L540.30 324.12M317.66 518.72L540.30 328.57M317.66 523.17L540.30 333.02M317.66 527.62L540.30 337.47M317.66 532.07L540.30 341.92M317.66 536.52L540.30 346.37M317.66 540.97L540.30 350.82M317.66 545.42L540.30 355.27M317.66 549.87L540.30 359.72M317.66 554.32L540.30 364.17M317.66 558.77L540.30 368.62M317.66 563.22L540.30 373.07M317.66 567.67L540.30 377.52M317.66 572.12L540.30 381.97M317.66 576.57L540.30 386.42M317.66 581.02L540.30 390.87M317.66 585.47L540.30 395.32M317.66 589.92L540.30 399.77M317.66 594.37L540.30 404.22M317.66 598.82L540.30 408.67" clip-path="url(#cp-d)" stroke="#9a9a9a" stroke-width="0.9" fill="none"/>
<polyline points="317.66,404.11 318.67,403.74 319.68,403.32 320.70,402.84 321.71,402.30 322.72,401.69 323.73,401.01 324.74,400.24 325.76,399.38 326.77,398.43 327.78,397.37 328.79,396.20 329.80,394.91 330.82,393.49 331.83,391.94 332.84,390.25 333.85,388.40 334.86,386.40 335.88,384.25 336.89,381.92 337.90,379.43 338.91,376.77 339.92,373.93 340.94,370.92 341.95,367.74 342.96,364.39 343.97,360.88 344.98,357.21 346.00,353.38 347.01,349.43 348.02,345.34 349.03,341.14 350.04,336.85 351.06,332.48 352.07,328.05 353.08,323.59 354.09,319.11 355.10,314.65 356.12,310.23 357.13,305.87 358.14,301.60 359.15,297.46 360.16,293.47 361.18,289.65 362.19,286.04 363.20,282.65 364.21,279.53 365.22,276.69 366.24,274.15 367.25,271.93 368.26,270.06 369.27,268.54 370.28,267.39 371.30,266.61 372.31,266.23 373.32,266.23 374.33,266.61 375.34,267.39 376.36,268.54 377.37,270.06 378.38,271.93 379.39,274.15 380.40,276.69 381.42,279.53 382.43,282.65 383.44,286.04 384.45,289.65 385.46,293.47 386.48,297.46 387.49,301.60 388.50,305.87 389.51,310.23 390.52,314.65 391.54,319.11 392.55,323.59 393.56,328.05 394.57,332.48 395.58,336.85 396.60,341.14 397.61,345.34 398.62,349.43 399.63,353.38 400.64,357.21 401.66,360.88 402.67,364.39 403.68,367.74 404.69,370.92 405.70,373.93 406.72,376.77 407.73,379.43 408.74,381.92 409.75,384.25 410.76,386.40 411.78,388.40 412.79,390.25 413.80,391.94 414.81,393.49 415.82,394.91 416.84,396.20 417.85,397.37 418.86,398.43 419.87,399.38 420.88,400.24 421.90,401.01 422.91,401.69 423.92,402.30 424.93,402.84 425.94,403.32 426.96,403.74 427.97,404.11 428.98,404.43 429.99,404.71 431.00,404.96 432.02,405.17 433.03,405.36 434.04,405.52 435.05,405.66 436.06,405.77 437.08,405.87 438.09,405.96 439.10,406.03 440.11,406.09 441.12,406.15 442.14,406.19 443.15,406.23 444.16,406.26 445.17,406.28 446.18,406.30 447.20,406.32 448.21,406.34 449.22,406.35 450.23,406.36 451.24,406.37 452.26,406.37 453.27,406.38 454.28,406.38 455.29,406.39 456.30,406.39 457.32,406.39 458.33,406.39 459.34,406.39 460.35,406.40 461.36,406.40 462.38,406.40 463.39,406.40 464.40,406.40 465.41,406.40 466.42,406.40 467.44,406.40 468.45,406.40 469.46,406.40 470.47,406.40 471.48,406.40 472.50,406.40 473.51,406.40 474.52,406.40 475.53,406.40 476.54,406.40 477.56,406.40 478.57,406.40 479.58,406.40 480.59,406.40 481.60,406.40 482.62,406.40 483.63,406.40 484.64,406.40 485.65,406.40 486.66,406.40 487.68,406.40 488.69,406.40 489.70,406.40 490.71,406.40 491.72,406.40 492.74,406.40 493.75,406.40 494.76,406.40 495.77,406.40 496.78,406.40 497.80,406.40 498.81,406.40 499.82,406.40 500.83,406.40 501.84,406.40 502.86,406.40 503.87,406.40 504.88,406.40 505.89,406.40 506.90,406.40 507.92,406.40 508.93,406.40 509.94,406.40 510.95,406.40 511.96,406.40 512.98,406.40 513.99,406.40 515.00,406.40 516.01,406.40 517.02,406.40 518.04,406.40 519.05,406.40 520.06,406.40 521.07,406.40 522.08,406.40 523.10,406.40 524.11,406.40 525.12,406.40 526.13,406.40 527.14,406.40 528.16,406.40 529.17,406.40 530.18,406.40 531.19,406.40 532.20,406.40 533.22,406.40 534.23,406.40 535.24,406.40 536.25,406.40 537.26,406.40 538.28,406.40 539.29,406.40 540.30,406.40" fill="none" stroke="#b0b0b0" stroke-width="0.8"/>
<path d="M327.78 399.18H348.02M348.02 265.90H368.26M368.26 321.99H388.50M388.50 363.08H408.74M408.74 393.63H428.98M428.98 404.18H449.22M449.22 405.84H469.46M327.78 398.78V406.40M348.02 265.50V406.40M368.26 265.50V406.40M388.50 321.59V406.40M408.74 362.68V406.40M428.98 393.23V406.40M449.22 403.78V406.40M469.46 405.44V406.40" fill="none" stroke="#333" stroke-width="0.9"/>
<path d="M317.66 239.80V406.40H540.30" fill="none" stroke="#404040" stroke-width="1"/>
<path d="M315.06 406.40H317.66" stroke="#404040" stroke-width="0.9"/>
<text x="313.76" y="409.10" font-size="8.4" text-anchor="end">0</text>
<path d="M316.26 392.52H317.66" stroke="#404040" stroke-width="0.8"/>
<path d="M315.06 378.63H317.66" stroke="#404040" stroke-width="0.9"/>
<text x="313.76" y="381.33" font-size="8.4" text-anchor="end">50</text>
<path d="M316.26 364.75H317.66" stroke="#404040" stroke-width="0.8"/>
<path d="M315.06 350.87H317.66" stroke="#404040" stroke-width="0.9"/>
<text x="313.76" y="353.57" font-size="8.4" text-anchor="end">100</text>
<path d="M316.26 336.98H317.66" stroke="#404040" stroke-width="0.8"/>
<path d="M315.06 323.10H317.66" stroke="#404040" stroke-width="0.9"/>
<text x="313.76" y="325.80" font-size="8.4" text-anchor="end">150</text>
<path d="M316.26 309.22H317.66" stroke="#404040" stroke-width="0.8"/>
<path d="M315.06 295.33H317.66" stroke="#404040" stroke-width="0.9"/>
<text x="313.76" y="298.03" font-size="8.4" text-anchor="end">200</text>
<path d="M316.26 281.45H317.66" stroke="#404040" stroke-width="0.8"/>
<path d="M315.06 267.57H317.66" stroke="#404040" stroke-width="0.9"/>
<text x="313.76" y="270.27" font-size="8.4" text-anchor="end">250</text>
<path d="M316.26 253.68H317.66" stroke="#404040" stroke-width="0.8"/>
<path d="M315.06 239.80H317.66" stroke="#404040" stroke-width="0.9"/>
<text x="313.76" y="242.50" font-size="8.4" text-anchor="end">300</text>
<path d="M337.90 406.40V408.80" stroke="#404040" stroke-width="0.9"/>
<text x="337.90" y="416.90" font-size="8.4" text-anchor="middle">0.0</text>
<path d="M363.20 406.40V407.70" stroke="#404040" stroke-width="0.8"/>
<path d="M388.50 406.40V408.80" stroke="#404040" stroke-width="0.9"/>
<text x="388.50" y="416.90" font-size="8.4" text-anchor="middle">0.5</text>
<path d="M413.80 406.40V407.70" stroke="#404040" stroke-width="0.8"/>
<path d="M439.10 406.40V408.80" stroke="#404040" stroke-width="0.9"/>
<text x="439.10" y="416.90" font-size="8.4" text-anchor="middle">1.0</text>
<path d="M464.40 406.40V407.70" stroke="#404040" stroke-width="0.8"/>
<path d="M489.70 406.40V408.80" stroke="#404040" stroke-width="0.9"/>
<text x="489.70" y="416.90" font-size="8.4" text-anchor="middle">1.5</text>
<path d="M515.00 406.40V407.70" stroke="#404040" stroke-width="0.8"/>
<path d="M540.30 406.40V408.80" stroke="#404040" stroke-width="0.9"/>
<text x="540.30" y="416.90" font-size="8.4" text-anchor="middle">2.0</text>
<rect x="332.90" y="399.29" width="10.00" height="7.6" rx="1.5" fill="#fff" fill-opacity="0.5"/>
<text x="337.90" y="405.89" font-size="8.4" text-anchor="middle">13</text>
<rect x="351.04" y="332.65" width="14.20" height="7.6" rx="1.5" fill="#fff" fill-opacity="0.5"/>
<text x="358.14" y="339.25" font-size="8.4" text-anchor="middle">253</text>
<rect x="371.28" y="360.69" width="14.20" height="7.6" rx="1.5" fill="#fff" fill-opacity="0.5"/>
<text x="378.38" y="367.29" font-size="8.4" text-anchor="middle">152</text>
<rect x="393.62" y="381.24" width="10.00" height="7.6" rx="1.5" fill="#fff" fill-opacity="0.5"/>
<text x="398.62" y="387.84" font-size="8.4" text-anchor="middle">78</text>
<rect x="413.86" y="396.51" width="10.00" height="7.6" rx="1.5" fill="#fff" fill-opacity="0.5"/>
<text x="418.86" y="403.11" font-size="8.4" text-anchor="middle">23</text>
<text x="439.10" y="408.39" font-size="8.4" text-anchor="middle">4</text>
<text x="459.34" y="409.22" font-size="8.4" text-anchor="middle">1</text>
<text x="479.58" y="409.50" font-size="8.4" text-anchor="middle">0</text>
<text x="499.82" y="409.50" font-size="8.4" text-anchor="middle">0</text>
<text x="520.06" y="409.50" font-size="8.4" text-anchor="middle">0</text>
<text x="540.30" y="409.50" font-size="8.4" text-anchor="middle">0</text>
<text x="429.5" y="428.4" font-size="8.4" text-anchor="middle">Relative root length</text>
<text transform="translate(297.76 323.10) rotate(-90)" font-size="8.4" text-anchor="middle">Number</text>
</g>
<text x="133.8" y="225" font-size="15.4" text-anchor="middle" style="stroke:none">(<tspan font-weight="bold">a</tspan>)</text>
<text x="419.2" y="225.4" font-size="15.4" text-anchor="middle" style="stroke:none">(<tspan font-weight="bold">b</tspan>)</text>
<text x="133.8" y="453" font-size="15.4" text-anchor="middle" style="stroke:none">(<tspan font-weight="bold">c</tspan>)</text>
<text x="419.2" y="453" font-size="15.4" text-anchor="middle" style="stroke:none">(<tspan font-weight="bold">d</tspan>)</text>
</g>
</svg></body></html>
